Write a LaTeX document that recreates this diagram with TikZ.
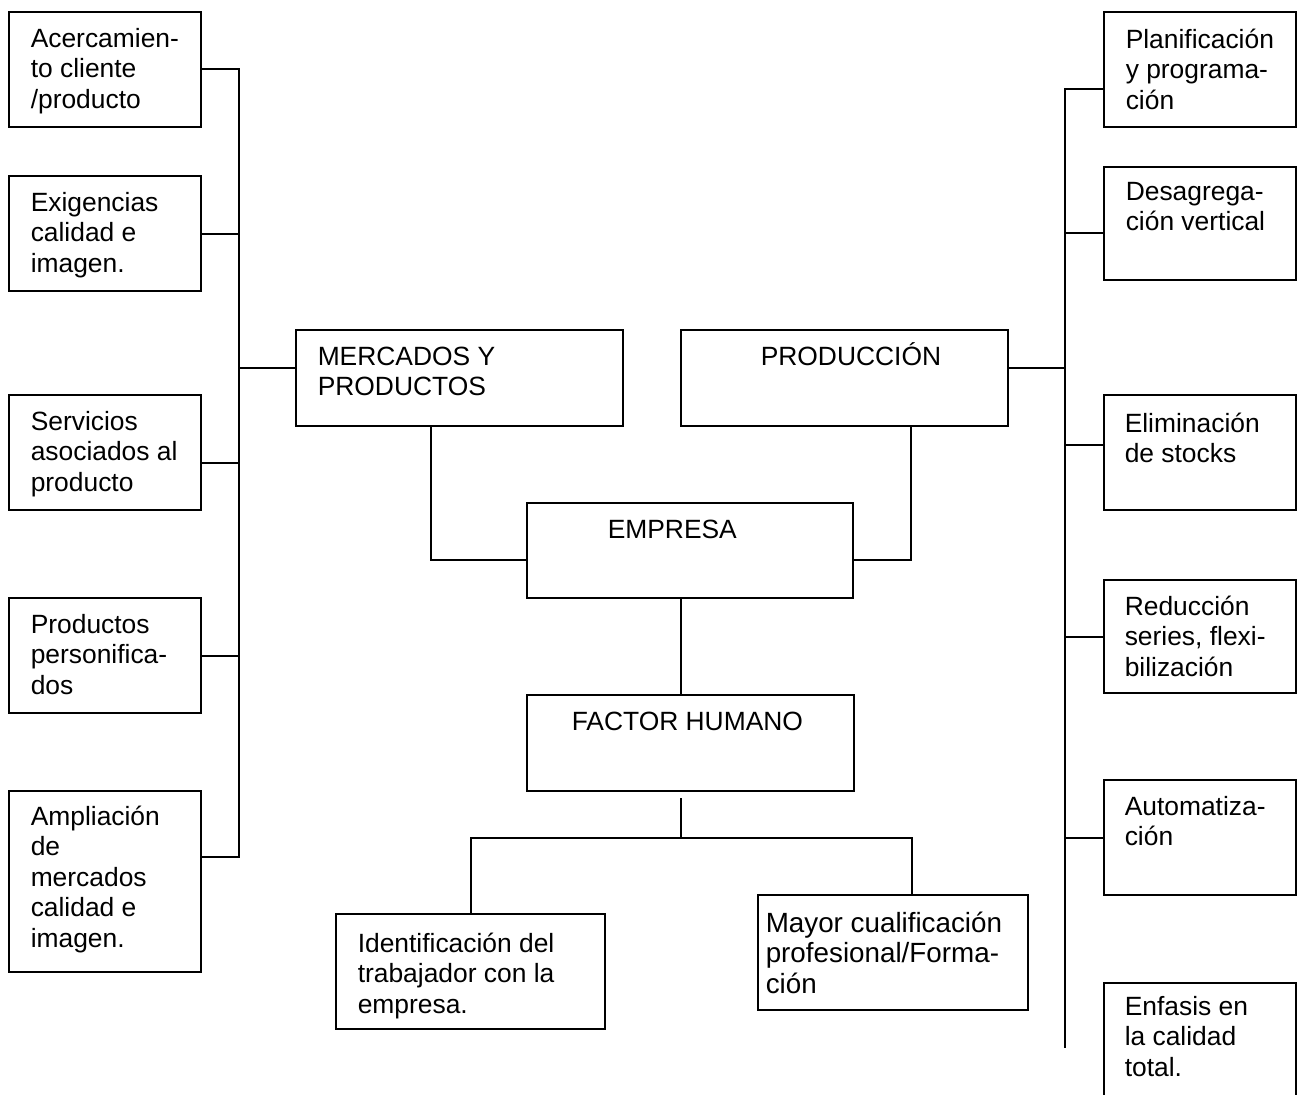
\documentclass[tikz,border=0pt]{standalone}
\usepackage{fontspec}
\setmainfont{Liberation Sans}
\usetikzlibrary{calc}
\newcommand\lnA[1]{\hbox{#1}}
\begin{document}
\begin{tikzpicture}[x=1pt,y=-1pt,line width=1.5pt,
  box/.style={draw,rectangle,inner sep=0pt,outer sep=0pt,anchor=north west},
  txt/.style={anchor=base west,inner sep=0pt,font=\fontsize{26.4}{30.5}\selectfont}]
\fill[white] (0,0) rectangle (1299,1095);
\useasboundingbox (0,0) rectangle (1299,1095);
% left column boxes
\node[box,minimum width=192pt,minimum height=115pt] (l1) at (9,12) {};
\node[box,minimum width=192pt,minimum height=115pt] (l2) at (9,176) {};
\node[box,minimum width=192pt,minimum height=115pt] (l3) at (9,395) {};
\node[box,minimum width=192pt,minimum height=115pt] (l4) at (9,598) {};
\node[box,minimum width=192pt,minimum height=181pt] (l5) at (9,791) {};
\node[txt] (l1t) at (30,47) {\vtop{\lnA{Acercamien-}\lnA{to cliente}\lnA{/producto}}};
\node[txt] (l2t) at (30,211) {\vtop{\lnA{Exigencias}\lnA{calidad e}\lnA{imagen.}}};
\node[txt] (l3t) at (30,430) {\vtop{\lnA{Servicios}\lnA{asociados al}\lnA{producto}}};
\node[txt] (l4t) at (30,633) {\vtop{\lnA{Productos}\lnA{personifica-}\lnA{dos}}};
\node[txt] (l5t) at (30,825) {\vtop{\lnA{Ampliación}\lnA{de}\lnA{mercados}\lnA{calidad e}\lnA{imagen.}}};
% central boxes
\node[box,minimum width=327pt,minimum height=96pt] (mk) at (296,330) {};
\node[box,minimum width=327pt,minimum height=96pt] (pr) at (681,330) {};
\node[box,minimum width=326pt,minimum height=95pt] (em) at (527,503) {};
\node[box,minimum width=327pt,minimum height=96pt] (fh) at (527,695) {};
\node[box,minimum width=269pt,minimum height=115pt] (id) at (336,914) {};
\node[box,minimum width=270pt,minimum height=115pt] (ma) at (758,895) {};
\node[txt] (mkt) at (317,365) {\vtop{\lnA{MERCADOS Y}\lnA{PRODUCTOS}}};
\node[txt] (prt) at (760,365) {PRODUCCIÓN};
\node[txt] (emt) at (607,538) {EMPRESA};
\node[txt] (fht) at (571,730) {FACTOR HUMANO};
\node[txt] (idt) at (357,952) {\vtop{\lnA{Identificación del}\lnA{trabajador con la}\lnA{empresa.}}};
\node[txt,font=\fontsize{27.8}{30.5}\selectfont] (mat) at (765,932) {\vtop{\lnA{Mayor cualificación}\lnA{profesional/Forma-}\lnA{ción}}};
% right column boxes
\node[box,minimum width=192pt,minimum height=115pt] (r1) at (1104,12) {};
\node[box,minimum width=192pt,minimum height=113pt] (r2) at (1104,167) {};
\node[box,minimum width=192pt,minimum height=115pt] (r3) at (1104,395) {};
\node[box,minimum width=192pt,minimum height=113pt] (r4) at (1104,580) {};
\node[box,minimum width=192pt,minimum height=115pt] (r5) at (1104,780) {};
\node[box,minimum width=192pt,minimum height=160pt] (r6) at (1104,983) {};
\node[txt] (r1t) at (1125,48) {\vtop{\lnA{Planificación}\lnA{y programa-}\lnA{ción}}};
\node[txt] (r2t) at (1125,200) {\vtop{\lnA{Desagrega-}\lnA{ción vertical}}};
\node[txt] (r3t) at (1124,432) {\vtop{\lnA{Eliminación}\lnA{de stocks}}};
\node[txt] (r4t) at (1124,615) {\vtop{\lnA{Reducción}\lnA{series, flexi-}\lnA{bilización}}};
\node[txt] (r5t) at (1124,815) {\vtop{\lnA{Automatiza-}\lnA{ción}}};
\node[txt] (r6t) at (1124,1015) {\vtop{\lnA{Enfasis en}\lnA{la calidad}\lnA{total.}}};
% bus coordinates
\coordinate (lbtop) at (239,69);
\coordinate (lbbot) at (239,857);
\coordinate (rbtop) at (1065,89);
\coordinate (rbbot) at (1065,1048);
\coordinate (fhj) at (681,838);
% left connectors
\draw ($(l1.north east)+(0,57)$) -- (lbtop) -- (lbbot) -- ($(l5.north east)+(0,66)$);
\draw ($(l2.north east)+(0,58)$) -- ++(38,0);
\draw ($(l3.north east)+(0,68)$) -- ++(38,0);
\draw ($(l4.north east)+(0,58)$) -- ++(38,0);
\draw ($(mk.north west)+(0,38)$) -- ++(-57,0);
% right connectors
\draw ($(r1.north west)+(0,77)$) -- (rbtop) -- (rbbot);
\draw ($(r2.north west)+(0,66)$) -- ++(-39,0);
\draw ($(r3.north west)+(0,50)$) -- ++(-39,0);
\draw ($(r4.north west)+(0,57)$) -- ++(-39,0);
\draw ($(r5.north west)+(0,58)$) -- ++(-39,0);
\draw ($(pr.north east)+(0,38)$) -- ++(57,0);
% centre connectors
\draw ($(mk.south west)+(135,0)$) |- ($(em.north west)+(0,57)$);
\draw ($(pr.south west)+(230,0)$) |- ($(em.north east)+(0,57)$);
\draw ($(em.south west)+(154,0)$) -- ($(fh.north west)+(154,0)$);
\draw ($(fh.south west)+(154,7)$) -- (fhj);
\draw ($(id.north west)+(135,0)$) |- (fhj) -| ($(ma.north west)+(154,0)$);
\end{tikzpicture}
\end{document}
